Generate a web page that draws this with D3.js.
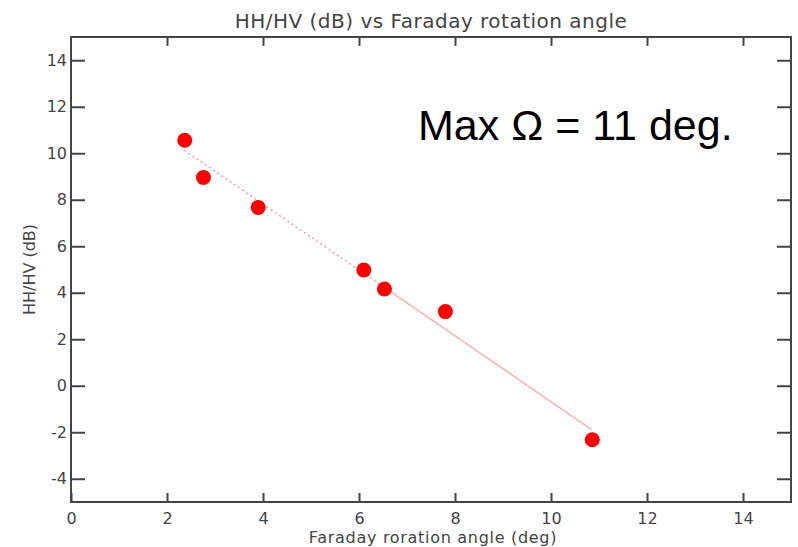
<!DOCTYPE html>
<html>
<head>
<meta charset="utf-8">
<script src="https://cdn.jsdelivr.net/npm/d3@7"></script>
<style>
  body { margin: 0; background: #fff; }
  text { font-family: "DejaVu Sans", sans-serif; fill: #444; }
</style>
</head>
<body>
<div class="chart"></div>
<script>
// data
var angle = [2.37, 2.76, 3.9, 6.1, 6.53, 7.8, 10.86];
var ratio = [10.56, 8.96, 7.67, 4.98, 4.16, 3.19, -2.32];
// fitted line, read at its two ends and where it turns from dotted to solid
var fitX = [2.36, 6.5, 10.85];
var fitY = [10.13, 4.27, -1.89];
var xTicks = [0, 2, 4, 6, 8, 10, 12, 14];
var yTicks = [-4, -2, 0, 2, 4, 6, 8, 10, 12, 14];

var W = 798, H = 547;
var margin = {top: 37, right: 7, bottom: 45, left: 71};
var width = W - margin.left - margin.right;
var height = H - margin.top - margin.bottom;

var svg = d3.select('.chart')
  .append('svg')
    .attr('width', W)
    .attr('height', H);

var g = svg.append('g')
    .attr('transform', `translate(${margin.left}, ${margin.top})`);

var x = d3.scaleLinear().domain([0, 15]).range([0, width]);
var y = d3.scaleLinear().domain([-5, 15]).range([height, 0]);

var axisColor = '#444';
var fmt = d => String(d);   // plain hyphen for negatives, as in the picture

// frame
g.append('rect')
  .attr('width', width)
  .attr('height', height)
  .attr('fill', 'none')
  .attr('stroke', axisColor)
  .attr('stroke-width', 2);

// ticks point inward on all four sides
var xb = g.append('g')
  .attr('transform', `translate(0, ${height})`)
  .call(d3.axisBottom(x).tickValues(xTicks).tickFormat(fmt).tickSize(-9).tickSizeOuter(0).tickPadding(11));
var xt = g.append('g')
  .call(d3.axisTop(x).tickValues(xTicks.filter(d => d > 0)).tickSize(-9).tickSizeOuter(0).tickFormat(''));
var yl = g.append('g')
  .call(d3.axisLeft(y).tickValues(yTicks).tickFormat(fmt).tickSize(-14).tickSizeOuter(0).tickPadding(4));
var yr = g.append('g')
  .attr('transform', `translate(${width}, 0)`)
  .call(d3.axisRight(y).tickValues(yTicks).tickSize(-14).tickSizeOuter(0).tickFormat(''));

[xb, xt, yl, yr].forEach(function(a) {
  a.select('.domain').remove();
  a.selectAll('line').attr('stroke', axisColor).attr('stroke-width', 2);
  a.selectAll('text').attr('font-size', 16).attr('fill', axisColor)
    .style('font-family', '"DejaVu Sans", sans-serif');
});
xb.selectAll('text').attr('dy', '0.71em');

// fit line: dotted in the upper part, solid below
g.append('line')
  .attr('x1', x(fitX[0])).attr('y1', y(fitY[0]))
  .attr('x2', x(fitX[1])).attr('y2', y(fitY[1]))
  .attr('stroke', '#ff8a8a')
  .attr('stroke-width', 1.2)
  .attr('stroke-dasharray', '2,3');
g.append('line')
  .attr('x1', x(fitX[1])).attr('y1', y(fitY[1]))
  .attr('x2', x(fitX[2])).attr('y2', y(fitY[2]))
  .attr('stroke', '#ffa0a0')
  .attr('stroke-width', 1.2);

// points
g.selectAll('circle')
  .data(angle)
  .enter()
  .append('circle')
  .attr('cx', (d, i) => x(d))
  .attr('cy', (d, i) => y(ratio[i]))
  .attr('r', 7.5)
  .attr('fill', '#ff0000');

// titles
svg.append('text')
  .attr('x', margin.left + width / 2)
  .attr('y', 28)
  .attr('text-anchor', 'middle')
  .attr('font-size', 20)
  .attr('letter-spacing', 0.5)
  .text('HH/HV (dB) vs Faraday rotation angle');

svg.append('text')
  .attr('x', 433)
  .attr('y', 543)
  .attr('text-anchor', 'middle')
  .attr('font-size', 16)
  .attr('letter-spacing', 0.7)
  .text('Faraday roration angle (deg)');

svg.append('text')
  .attr('transform', `translate(35, ${margin.top + y(5)}) rotate(-90)`)
  .attr('text-anchor', 'middle')
  .attr('font-size', 16)
  .text('HH/HV (dB)');

svg.append('text')
  .attr('x', 418)
  .attr('y', 140)
  .attr('font-size', 43)
  .style('font-family', '"Liberation Sans", Arial, sans-serif')
  .style('fill', '#000')
  .text('Max Ω = 11 deg.');
</script>
</body>
</html>
